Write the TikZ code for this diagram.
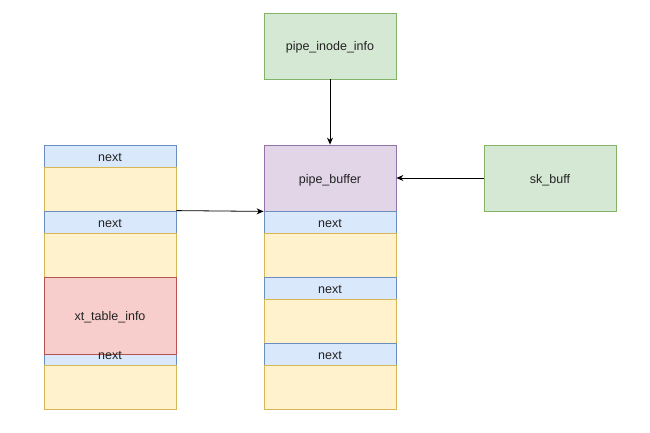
\documentclass[tikz,border=0pt]{standalone}
\usepackage{fontspec}
\setmainfont{Liberation Sans}
\usetikzlibrary{arrows.meta}
\definecolor{bfill}{HTML}{DAE8FC}\definecolor{bline}{HTML}{6C8EBF}
\definecolor{yfill}{HTML}{FFF2CC}\definecolor{yline}{HTML}{D6B656}
\definecolor{rfill}{HTML}{F8CECC}\definecolor{rline}{HTML}{B85450}
\definecolor{gfill}{HTML}{D5E8D4}\definecolor{gline}{HTML}{82B366}
\definecolor{pfill}{HTML}{E1D5E7}\definecolor{pline}{HTML}{9673A6}
\definecolor{txt}{HTML}{222222}
\begin{document}
\begin{tikzpicture}[x=1pt,y=-1pt,
  cell/.style={rectangle,inner sep=0pt,minimum width=132pt,line width=0.8pt,font=\fontsize{12.5}{14}\selectfont,text=txt,text height=10pt,text depth=0pt},
  nextbox/.style={cell,draw=bline,fill=bfill,minimum height=22pt},
  ybox/.style={cell,draw=yline,fill=yfill,minimum height=44pt},
  gbox/.style={cell,draw=gline,fill=gfill,minimum height=66pt},
  arr/.style={-{Stealth[length=7pt,width=6pt]},line width=0.8pt,black}]
\useasboundingbox (0,0) rectangle (650,433);
% left column
\node[nextbox] (ln1) at (110,156) {next};
\node[ybox] (ly1) at (110,189) {};
\node[nextbox] (ln2) at (110,222) {next};
\node[ybox] (ly2) at (110,255) {};
\node[nextbox] (ln3) at (110,354) {};
\node[ybox] (ly3) at (110,387) {};
\node[cell,draw=rline,fill=rfill,minimum height=77pt] (xt) at (110,315.5) {xt\_table\_info};
\node[cell] (ln3t) at (ln3) {next};
% right column
\node[cell,draw=pline,fill=pfill,minimum height=66pt] (pb) at (330,178) {pipe\_buffer};
\node[nextbox] (rn1) at (330,222) {next};
\node[ybox] (ry1) at (330,255) {};
\node[nextbox] (rn2) at (330,288) {next};
\node[ybox] (ry2) at (330,321) {};
\node[nextbox] (rn3) at (330,354) {next};
\node[ybox] (ry3) at (330,387) {};
% green boxes
\node[gbox] (pii) at (330,46) {pipe\_inode\_info};
\node[gbox] (skb) at (550,178) {sk\_buff};
% arrows
\draw[arr] (pii.south) -- (pb.north);
\draw[arr] (skb.west) -- (pb.east);
\draw[arr] (ln2.north east) -- (pb.south west);
\end{tikzpicture}
\end{document}
